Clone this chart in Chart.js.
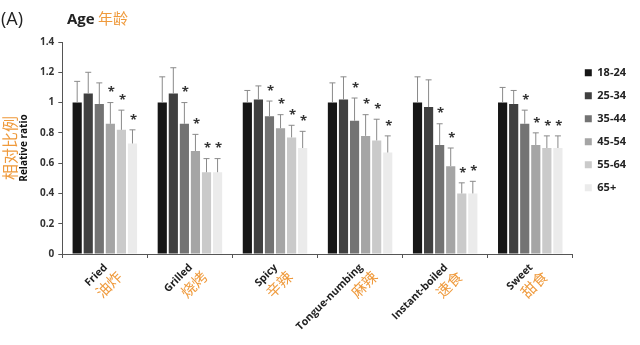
<!DOCTYPE html>
<html>
<head>
<meta charset="utf-8">
<script src="https://cdn.jsdelivr.net/npm/chart.js@4.4.1/dist/chart.umd.min.js"></script>
<style>
  body { margin: 0; background: #fff; }
  #wrap { width: 640px; height: 345px; }
</style>
</head>
<body>
<div id="wrap"><canvas id="myChart" width="640" height="345"></canvas></div>
<script>
// categories (English + Chinese) and age groups
const categories = ['Fried', 'Grilled', 'Spicy', 'Tongue-numbing', 'Instant-boiled', 'Sweet'];
const categoriesZh = ['油炸', '烧烤', '辛辣', '麻辣', '速食', '甜食'];
const ageGroups = ['18-24', '25-34', '35-44', '45-54', '55-64', '65+'];
const yTicks = [0, 0.2, 0.4, 0.6, 0.8, 1, 1.2, 1.4];

// relative ratio for each age group, one value per category
const age1824 = [1.00, 1.00, 1.00, 1.00, 1.00, 1.00];
const age2534 = [1.06, 1.06, 1.02, 1.02, 0.97, 0.99];
const age3544 = [0.99, 0.86, 0.91, 0.88, 0.72, 0.86];
const age4554 = [0.86, 0.68, 0.83, 0.78, 0.58, 0.72];
const age5564 = [0.82, 0.54, 0.77, 0.75, 0.40, 0.70];
const age65 = [0.73, 0.54, 0.70, 0.67, 0.40, 0.70];

// error bars (upper only)
const err1824 = [0.14, 0.17, 0.08, 0.13, 0.17, 0.10];
const err2534 = [0.14, 0.17, 0.09, 0.15, 0.18, 0.09];
const err3544 = [0.14, 0.14, 0.10, 0.15, 0.14, 0.09];
const err4554 = [0.14, 0.11, 0.09, 0.14, 0.12, 0.08];
const err5564 = [0.13, 0.09, 0.08, 0.14, 0.07, 0.08];
const err65 = [0.09, 0.09, 0.11, 0.11, 0.08, 0.08];

// significance marks (*)
const sig1824 = [0, 0, 0, 0, 0, 0];
const sig2534 = [0, 0, 0, 0, 0, 0];
const sig3544 = [0, 1, 1, 1, 1, 1];
const sig4554 = [1, 1, 1, 1, 1, 1];
const sig5564 = [1, 1, 1, 1, 1, 1];
const sig65 = [1, 1, 1, 1, 1, 1];

const values = [age1824, age2534, age3544, age4554, age5564, age65];
const errors = [err1824, err2534, err3544, err4554, err5564, err65];
const stars = [sig1824, sig2534, sig3544, sig4554, sig5564, sig65];
const barColors = ['#161616', '#404040', '#737373', '#a5a5a5', '#cacaca', '#ebebeb'];
const orange = '#ef9a3c';

// error bars + stars
const errorBarPlugin = {
  id: 'errorBars',
  afterDatasetsDraw(chart) {
    const ctx = chart.ctx;
    const y = chart.scales.y;
    ctx.save();
    chart.data.datasets.forEach((ds, i) => {
      const meta = chart.getDatasetMeta(i);
      meta.data.forEach((bar, j) => {
        const top = y.getPixelForValue(values[i][j] + errors[i][j]);
        ctx.strokeStyle = '#8a8a8a';
        ctx.lineWidth = 1;
        ctx.beginPath();
        ctx.moveTo(bar.x, bar.y);
        ctx.lineTo(bar.x, top);
        ctx.moveTo(bar.x - 3, top);
        ctx.lineTo(bar.x + 3, top);
        ctx.stroke();
        if (stars[i][j]) {
          ctx.fillStyle = '#333';
          ctx.font = 'bold 13px "Open Sans"';
          ctx.textAlign = 'center';
          ctx.textBaseline = 'middle';
          ctx.fillText('*', bar.x + 1, top - 10);
        }
      });
    });
    ctx.restore();
  }
};

// titles and rotated two-colour category labels
const textPlugin = {
  id: 'texts',
  afterDraw(chart) {
    const ctx = chart.ctx;
    const x = chart.scales.x;
    const area = chart.chartArea;
    ctx.save();
    ctx.textBaseline = 'alphabetic';
    ctx.textAlign = 'left';
    ctx.fillStyle = '#222';
    ctx.font = '18px "Open Sans"';
    ctx.fillText('(A)', 1, 25);
    ctx.font = 'bold 15px "Open Sans"';
    ctx.fillText('Age', 67, 24);
    ctx.fillStyle = orange;
    ctx.font = '15px "Noto Sans CJK SC"';
    ctx.fillText('年龄', 98, 24);

    // chinese y title
    ctx.save();
    ctx.translate(10, (area.top + area.bottom) / 2);
    ctx.rotate(-Math.PI / 2);
    ctx.textAlign = 'center';
    ctx.textBaseline = 'middle';
    ctx.fillStyle = orange;
    ctx.font = '16px "Noto Sans CJK SC"';
    ctx.fillText('相对比例', 0, 0);
    ctx.restore();

    categories.forEach((c, i) => {
      const px = x.getPixelForValue(i);
      ctx.save();
      ctx.translate(px + 3, area.bottom + 14);
      ctx.rotate(-Math.PI / 4);
      ctx.textAlign = 'right';
      ctx.textBaseline = 'alphabetic';
      ctx.fillStyle = '#222';
      ctx.font = 'bold 10.5px "Open Sans"';
      ctx.fillText(c, 0, 0);
      ctx.fillStyle = orange;
      ctx.font = '15px "Noto Sans CJK SC"';
      ctx.fillText(categoriesZh[i], 4, 18);
      ctx.restore();
    });
    ctx.restore();
  }
};

const datasets = ageGroups.map((g, i) => ({
  label: g,
  data: values[i],
  backgroundColor: barColors[i],
  borderWidth: 0,
  categoryPercentage: 0.78,
  barPercentage: 0.83
}));

const config = {
  type: 'bar',
  data: { labels: categories, datasets: datasets },
  options: {
    responsive: false,
    animation: false,
    layout: { padding: { top: 42, left: 18, right: 4, bottom: 87 } },
    plugins: {
      tooltip: { enabled: false },
      legend: {
        position: 'right',
        align: 'start',
        title: { display: true, text: ' ', padding: 0, font: { size: 11 } },
        labels: {
          boxWidth: 7,
          boxHeight: 7,
          padding: 12,
          color: '#222',
          font: { family: 'Open Sans', size: 11, weight: 'bold' }
        }
      }
    },
    scales: {
      x: {
        grid: { display: true, drawOnChartArea: false, drawTicks: true, tickLength: 4, color: '#555', offset: true },
        border: { color: '#555' },
        ticks: { display: false }
      },
      y: {
        min: 0,
        max: 1.4,
        afterBuildTicks(scale) { scale.ticks = yTicks.map(v => ({ value: v })); },
        grid: { display: true, drawOnChartArea: false, drawTicks: true, tickLength: 4, color: '#555' },
        border: { color: '#555' },
        ticks: {
          color: '#333',
          padding: 4,
          font: { family: 'Open Sans', size: 10, weight: 'bold' },
          callback: (v) => String(v)
        },
        title: {
          display: true,
          text: 'Relative ratio',
          color: '#111',
          padding: { top: 0, bottom: 6 },
          font: { family: 'Open Sans', size: 10, weight: 'bold' }
        }
      }
    }
  },
  plugins: [errorBarPlugin, textPlugin]
};

const myChart = new Chart(document.getElementById('myChart'), config);
</script>
</body>
</html>
